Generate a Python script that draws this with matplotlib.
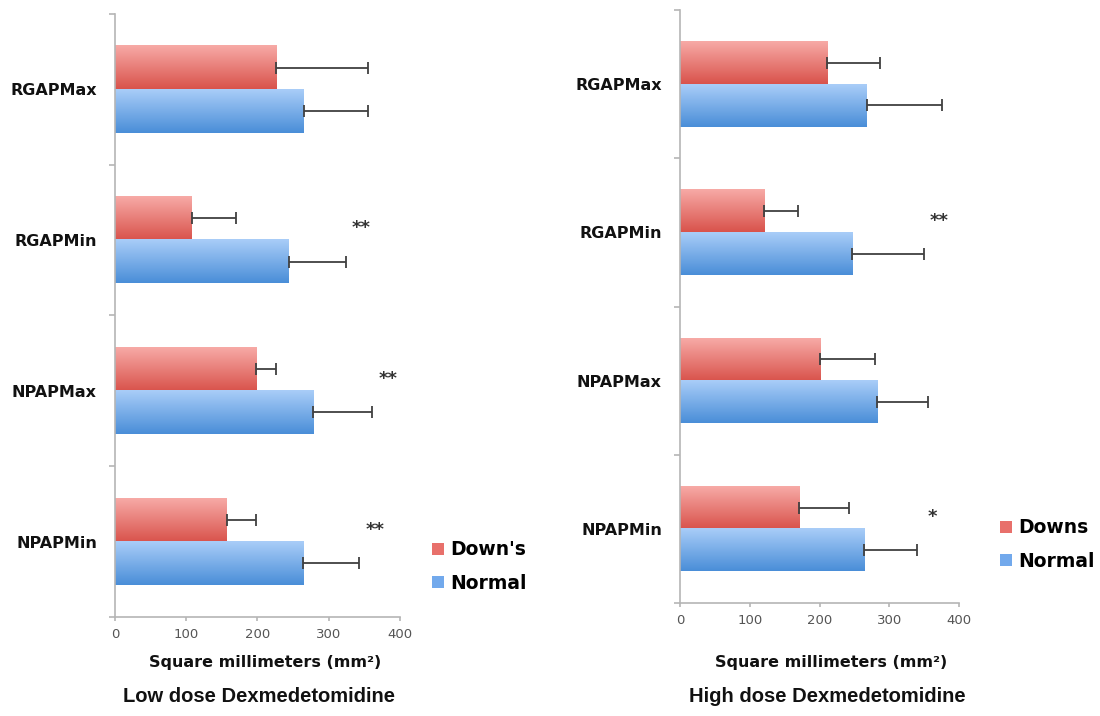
import numpy as np
import matplotlib
matplotlib.use('Agg')
import matplotlib.pyplot as plt
from matplotlib.colors import LinearSegmentedColormap
from matplotlib.patches import Patch

# Categories, top to bottom
categories = ['RGAPMax', 'RGAPMin', 'NPAPMax', 'NPAPMin']

# Low dose Dexmedetomidine (square millimeters)
downs_low = [226, 108, 198, 157]
downs_low_err = [129, 62, 28, 41]
normal_low = [265, 244, 278, 264]
normal_low_err = [90, 80, 83, 79]
stars_low = ['', '**', '**', '**']

# High dose Dexmedetomidine
downs_high = [211, 121, 201, 171]
downs_high_err = [76, 48, 78, 71]
normal_high = [268, 247, 283, 264]
normal_high_err = [107, 103, 72, 76]
stars_high = ['', '**', '', '*']

x_ticks = [0, 100, 200, 300, 400]

RED_TOP, RED_BOT = '#f7aaa6', '#d9534c'
BLUE_TOP, BLUE_BOT = '#a9cdf8', '#4a8ed8'
AXIS_GREY = '#b5b5b5'


def gradient_bar(ax, y, width, height, c_top, c_bot):
    cmap = LinearSegmentedColormap.from_list('g', [c_top, c_bot])
    grad = np.linspace(0, 1, 64).reshape(-1, 1)
    ax.imshow(grad, cmap=cmap, aspect='auto', origin='upper', interpolation='bilinear',
              extent=[0, width, y - height / 2, y + height / 2], zorder=2)


def draw_panel(ax, downs, downs_err, normal, normal_err, stars):
    ypos = np.arange(len(categories))[::-1]
    h = 0.287
    y_down = ypos + h / 2
    y_norm = ypos - h / 2
    for i in range(len(categories)):
        gradient_bar(ax, y_down[i], downs[i], h, RED_TOP, RED_BOT)
        gradient_bar(ax, y_norm[i], normal[i], h, BLUE_TOP, BLUE_BOT)

    zeros = np.zeros(len(categories))
    ax.errorbar(downs, y_down, xerr=[zeros, downs_err], fmt='none', ecolor='#404040',
                elinewidth=1.3, capsize=4, capthick=1.3, zorder=3)
    ax.errorbar(normal, y_norm, xerr=[zeros, normal_err], fmt='none', ecolor='#404040',
                elinewidth=1.3, capsize=4, capthick=1.3, zorder=3)

    # significance marks
    for i, s in enumerate(stars):
        if s:
            ax.text(normal[i] + normal_err[i] + 22, ypos[i] + 0.08, s, ha='center', va='center',
                    fontsize=13, fontweight='bold', color='#333333')

    ax.set_xlim(0, 400)
    ax.set_ylim(-0.5, len(categories) - 0.5)
    ax.set_xticks(x_ticks)
    ax.set_yticks(ypos)
    ax.set_yticklabels(categories, fontsize=11.5, fontweight='bold', color='#111111')
    ax.set_yticks(np.arange(-0.5, len(categories)), minor=True)
    ax.tick_params(axis='y', which='major', length=0, pad=13)
    ax.tick_params(axis='y', which='minor', length=4.5, width=1.2, color=AXIS_GREY)
    ax.tick_params(axis='x', length=3, width=1.2, color=AXIS_GREY, labelsize=9.5,
                   labelcolor='#555555', pad=5)
    for side in ['top', 'right']:
        ax.spines[side].set_visible(False)
    for side in ['left', 'bottom']:
        ax.spines[side].set_color(AXIS_GREY)
        ax.spines[side].set_linewidth(1.2)


fig = plt.figure(figsize=(11, 7.16), dpi=100)

ax1 = fig.add_axes([0.1045, 0.1383, 0.2591, 0.8422])
draw_panel(ax1, downs_low, downs_low_err, normal_low, normal_low_err, stars_low)

ax2 = fig.add_axes([0.6182, 0.1578, 0.2536, 0.8282])
draw_panel(ax2, downs_high, downs_high_err, normal_high, normal_high_err, stars_high)

# axis labels and panel titles
fig.text(265 / 1100, 1 - 663 / 716, 'Square millimeters (mm²)', ha='center', va='center',
         fontsize=11.5, fontweight='bold', color='#111111')
fig.text(831 / 1100, 1 - 662 / 716, 'Square millimeters (mm²)', ha='center', va='center',
         fontsize=11.5, fontweight='bold', color='#111111')
fig.text(259 / 1100, 1 - 697 / 716, 'Low dose Dexmedetomidine', ha='center', va='center',
         fontsize=14.5, fontweight='bold', family='Liberation Sans', color='#111111')
fig.text(827 / 1100, 1 - 697 / 716, 'High dose Dexmedetomidine', ha='center', va='center',
         fontsize=14.5, fontweight='bold', family='Liberation Sans', color='#111111')

# legends
legend_style = dict(loc='center left', frameon=False, borderpad=0, borderaxespad=0,
                    handlelength=0.65, handleheight=0.65, handletextpad=0.35,
                    labelspacing=0.75, prop={'size': 13.5, 'weight': 'bold'})
h1 = [Patch(facecolor='#e8706b'), Patch(facecolor='#72a9ec')]
fig.legend(h1, ["Down's", 'Normal'], bbox_to_anchor=(432 / 1100, 1 - 566.5 / 716), **legend_style)
fig.legend(h1, ['Downs', 'Normal'], bbox_to_anchor=(1000 / 1100, 1 - 544.5 / 716), **legend_style)

plt.savefig('out.png', dpi=100)
